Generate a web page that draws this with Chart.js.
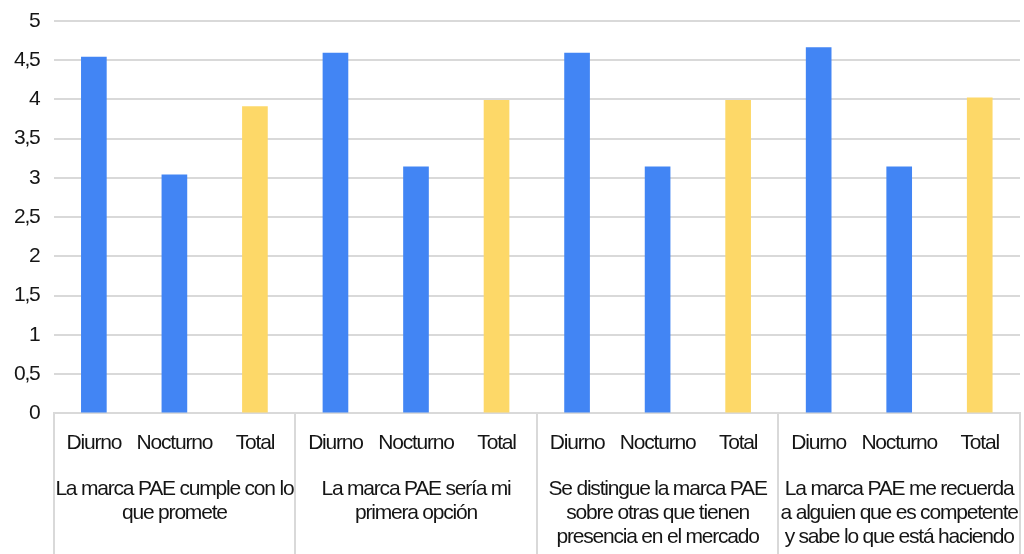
<!DOCTYPE html>
<html lang="es">
<head>
<meta charset="utf-8">
<title>Marca PAE</title>
<script src="https://cdn.jsdelivr.net/npm/chart.js@4.4.1/dist/chart.umd.min.js"></script>
<style>
    html, body { margin: 0; padding: 0; background: #fff; }
    #wrap { width: 1024px; height: 554px; position: relative; }
</style>
</head>
<body>
<div id="wrap"><canvas id="paeChart"></canvas></div>
<script>
// ---- data ----
const subLabels = ['Diurno', 'Nocturno', 'Total',
                   'Diurno', 'Nocturno', 'Total',
                   'Diurno', 'Nocturno', 'Total',
                   'Diurno', 'Nocturno', 'Total'];

const groupLabels = [
    ['La marca PAE cumple con lo', 'que promete'],
    ['La marca PAE sería mi', 'primera opción'],
    ['Se distingue la marca PAE', 'sobre otras que tienen', 'presencia en el mercado'],
    ['La marca PAE me recuerda', 'a alguien que es competente', 'y sabe lo que está haciendo']
];

const scores = [4.54, 3.04, 3.91,
                4.59, 3.14, 3.99,
                4.59, 3.14, 3.99,
                4.66, 3.14, 4.02];

const yTicks = [0, 0.5, 1, 1.5, 2, 2.5, 3, 3.5, 4, 4.5, 5];

const BLUE = '#4285F4';
const YELLOW = '#FDD868';
const GRID = '#d9d9d9';
const TEXT = '#151515';
const FONT = "'Liberation Sans', Arial, sans-serif";

// the original uses a narrow font; squeeze the letters a bit
const narrowText = {
    id: 'narrowText',
    beforeUpdate(chart) { chart.ctx.letterSpacing = '-1.2px'; },
    beforeDraw(chart) { chart.ctx.letterSpacing = '-1.2px'; }
};

// vertical separators between the groups, below the plot
const groupDividers = {
    id: 'groupDividers',
    afterDraw(chart) {
        const ctx = chart.ctx;
        const xs = chart.scales.x;
        const top = chart.chartArea.bottom;
        ctx.save();
        ctx.strokeStyle = GRID;
        ctx.lineWidth = 2;
        for (let g = 0; g <= groupLabels.length; g++) {
            const px = Math.round(xs.getPixelForValue(g * 3 - 0.5));
            ctx.beginPath();
            ctx.moveTo(px, top);
            ctx.lineTo(px, chart.height);
            ctx.stroke();
        }
        ctx.restore();
    }
};

// labels may hang over the plot edges, don't let chart.js shrink the plot for them
function noOverflowPadding(scale) {
    scale.paddingLeft = 0;
    scale.paddingRight = 0;
    scale.paddingTop = 0;
    scale.paddingBottom = 0;
}

function renderChart() {
    const ctx = document.getElementById('paeChart').getContext('2d');

    new Chart(ctx, {
        type: 'bar',
        data: {
            labels: subLabels,
            datasets: [{
                data: scores,
                backgroundColor: subLabels.map(l => l === 'Total' ? YELLOW : BLUE),
                barThickness: 25,
                borderWidth: 0
            }]
        },
        options: {
            responsive: true,
            maintainAspectRatio: false,
            animation: false,
            layout: { padding: { top: 21, left: 0, right: 4, bottom: 0 } },
            plugins: {
                legend: { display: false },
                tooltip: { enabled: false }
            },
            scales: {
                y: {
                    min: 0,
                    max: 5,
                    afterBuildTicks: axis => { axis.ticks = yTicks.map(v => ({ value: v })); },
                    afterFit: noOverflowPadding,
                    ticks: {
                        color: TEXT,
                        padding: 14,
                        font: { family: FONT, size: 21 },
                        callback: v => String(v).replace('.', ',')
                    },
                    grid: { color: GRID, lineWidth: 2, drawTicks: false },
                    border: { display: false }
                },
                x: {
                    offset: true,
                    afterFit: noOverflowPadding,
                    grid: { display: false, drawTicks: false },
                    border: { display: true, color: GRID, width: 2 },
                    ticks: {
                        color: TEXT,
                        padding: 17,
                        autoSkip: false,
                        maxRotation: 0,
                        font: { family: FONT, size: 21 }
                    }
                },
                x2: {
                    type: 'category',
                    position: 'bottom',
                    labels: groupLabels,
                    offset: true,
                    afterFit: noOverflowPadding,
                    grid: { display: false, drawTicks: false },
                    border: { display: false },
                    ticks: {
                        color: TEXT,
                        padding: 5.5,
                        autoSkip: false,
                        maxRotation: 0,
                        font: { family: FONT, size: 21, lineHeight: 1.12 }
                    }
                }
            }
        },
        plugins: [narrowText, groupDividers]
    });
}

renderChart();
</script>
</body>
</html>
